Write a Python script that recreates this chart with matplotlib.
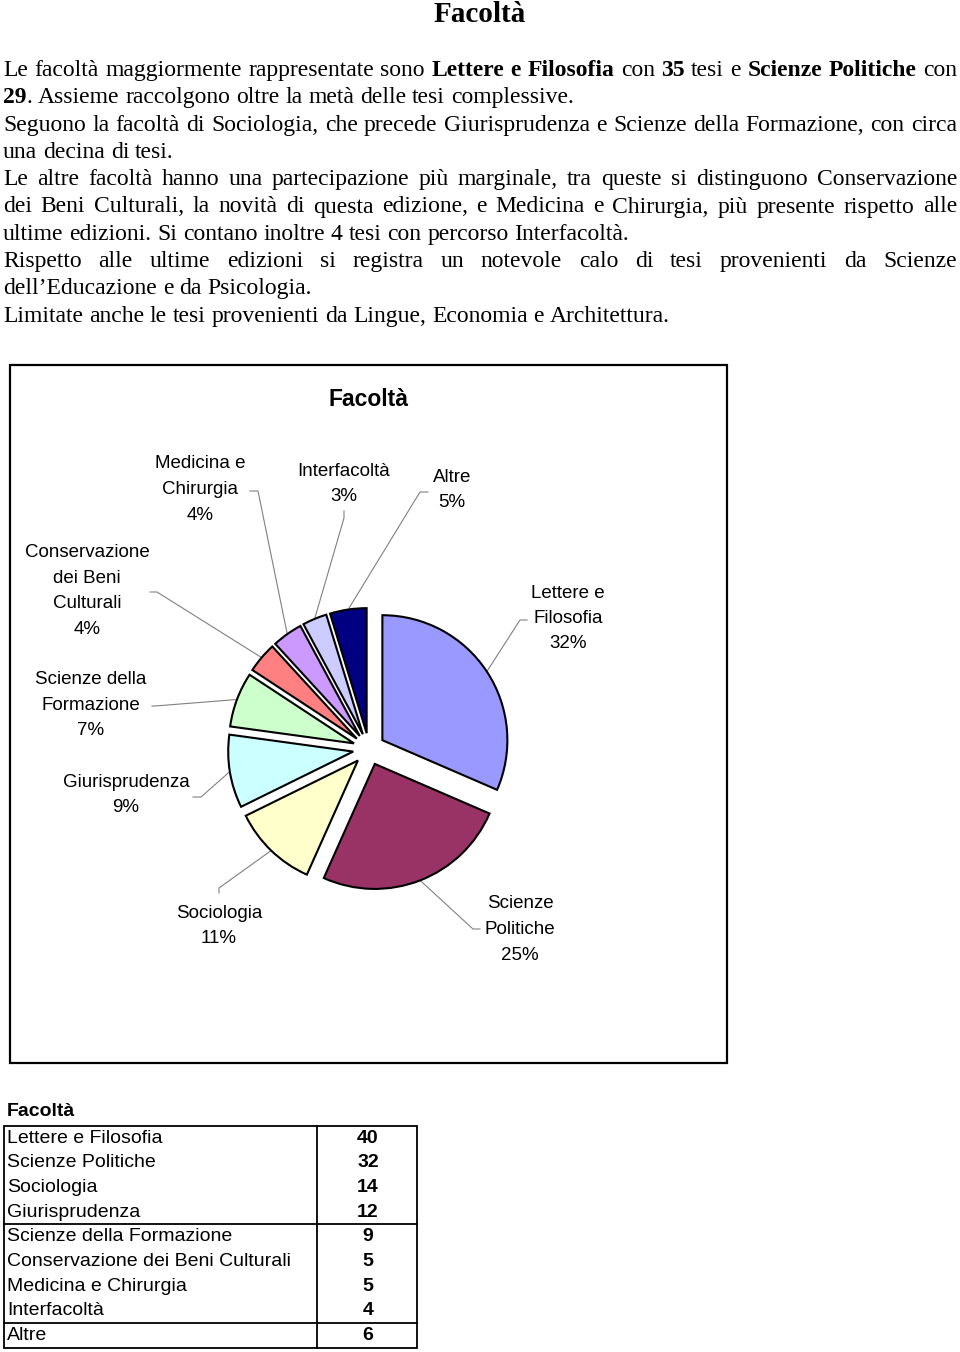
import numpy as np
import matplotlib
matplotlib.use("Agg")
import matplotlib.pyplot as plt
from matplotlib.patches import Rectangle

# dati
facolta = ["Lettere e Filosofia", "Scienze Politiche", "Sociologia", "Giurisprudenza",
           "Scienze della Formazione", "Conservazione dei Beni Culturali",
           "Medicina e Chirurgia", "Interfacoltà", "Altre"]
tesi = [40, 32, 14, 12, 9, 5, 5, 4, 6]
# percentuali come stampate sul grafico
percentuali = [32, 25, 11, 9, 7, 4, 4, 3, 5]
colori = ["#9999FF", "#993366", "#FFFFCC", "#CCFFFF", "#CCFFCC",
          "#FF8080", "#CC99FF", "#CCCCFF", "#000080"]
# etichette come vanno a capo nel grafico
etichette = [["Lettere e", "Filosofia"], ["Scienze", "Politiche"], ["Sociologia"],
             ["Giurisprudenza"], ["Scienze della", "Formazione"],
             ["Conservazione", "dei Beni", "Culturali"], ["Medicina e", "Chirurgia"],
             ["Interfacoltà"], ["Altre"]]

testo = [
    ("Le facoltà maggiormente rappresentate sono **Lettere e Filosofia** con **35** tesi e **Scienze Politiche** con", True),
    ("**29**. Assieme raccolgono oltre la metà delle tesi complessive.", False),
    ("Seguono la facoltà di Sociologia, che precede Giurisprudenza e Scienze della Formazione, con circa", True),
    ("una decina di tesi.", False),
    ("Le altre facoltà hanno una partecipazione più marginale, tra queste si distinguono Conservazione", True),
    ("dei Beni Culturali, la novità di questa edizione, e Medicina e Chirurgia, più presente rispetto alle", True),
    ("ultime edizioni. Si contano inoltre 4 tesi con percorso Interfacoltà.", False),
    ("Rispetto alle ultime edizioni si registra un notevole calo di tesi provenienti da Scienze", True),
    ("dell’Educazione e da Psicologia.", False),
    ("Limitate anche le tesi provenienti da Lingue, Economia e Architettura.", False),
]

W, H = 960, 1352
fig = plt.figure(figsize=(W / 100, H / 100), dpi=100)
ax = fig.add_axes([0, 0, 1, 1])
r = fig.canvas.get_renderer()

SERIF = "Liberation Serif"
SANS = "Liberation Sans"

# titolo pagina
ax.text(480, 22, "Facoltà", family=SERIF, weight="bold", size=21, ha="center", va="baseline")


def parse(riga):
    parole = []
    bold = False
    for w in riga.split(" "):
        pezzi = []
        for i, p in enumerate(w.split("**")):
            if i > 0:
                bold = not bold
            if p:
                pezzi.append((p, bold))
        parole.append(pezzi)
    return parole


def larghezza(s, bold, size):
    t = ax.text(0, 0, s, family=SERIF, weight="bold" if bold else "normal", size=size)
    w = t.get_window_extent(r).width
    t.remove()
    return w


SIZE = 17
spazio = larghezza("x x", False, SIZE) - larghezza("xx", False, SIZE)
x0, x1 = 3, 957
y = 76
for riga, giust in testo:
    parole = parse(riga)
    wp = [sum(larghezza(p, b, SIZE) for p, b in pz) for pz in parole]
    gap = (x1 - x0 - sum(wp)) / (len(parole) - 1) if giust else spazio
    x = x0
    for pz, w in zip(parole, wp):
        xx = x
        for p, b in pz:
            ax.text(xx, y, p, family=SERIF, weight="bold" if b else "normal",
                    size=SIZE, ha="left", va="baseline")
            xx += larghezza(p, b, SIZE)
        x += w + gap
    y += 27.3

# riquadro grafico
ax.add_patch(Rectangle((10, 365), 717, 698, fill=False, edgecolor="black", lw=1.6))
ax.text(368, 399, "Facoltà", family=SANS, weight="bold", size=16.5, ha="center", va="center")

wedges, _ = ax.pie(tesi, colors=colori, explode=[16] * len(tesi), radius=125,
                   center=(369, 749), startangle=-90, counterclock=True,
                   wedgeprops=dict(edgecolor="black", linewidth=1.5))

pos_etichette = [(568, 618.5), (520, 929.5), (219, 926), (126, 795), (91, 705),
                 (87, 591), (200, 489.5), (344, 484), (452, 490)]
ancore = [((527, 620), (520, 620)), ((480, 929), (473, 929)), ((219, 893), (219, 888)),
          ((193, 797), (201, 797)), ((152, 706), (155, 706)), ((150, 592), (157, 592)),
          ((250, 491), (258, 491)), ((344, 511), (344, 518)), ((428, 492), (420, 492))]

for w, lab, (lx, ly), (a, b), pc in zip(wedges, etichette, pos_etichette, ancore, percentuali):
    righe = lab + ["%d%%" % pc]
    n = len(righe)
    for i, s in enumerate(righe):
        ax.text(lx, ly + (i - (n - 1) / 2) * 25.5, s, family=SANS, size=13.5,
                ha="center", va="center")
    mid = np.deg2rad((w.theta1 + w.theta2) / 2)
    px = w.center[0] + w.r * np.cos(mid)
    py = w.center[1] + w.r * np.sin(mid)
    ax.plot([a[0], b[0], px], [a[1], b[1], py], color="#808080", lw=0.8, zorder=0)

# tabella
ax.text(7, 1112, "Facoltà", family=SANS, weight="bold", size=14, ha="left", va="center")
top, rh = 1125.7, 24.67
ax.add_patch(Rectangle((3.5, top), 413, rh * len(tesi), fill=False, edgecolor="black", lw=1.3))
ax.plot([317, 317], [top, top + rh * len(tesi)], color="black", lw=1.3)
for k in (4, 8):
    ax.plot([3.5, 416.5], [top + rh * k] * 2, color="black", lw=1.3)
for i, (f, v) in enumerate(zip(facolta, tesi)):
    yc = top + rh * (i + 0.5)
    ax.text(7, yc, f, family=SANS, size=14, ha="left", va="center")
    ax.text(368, yc, str(v), family=SANS, weight="bold", size=14, ha="center", va="center")

ax.set_xlim(0, W)
ax.set_ylim(H, 0)
ax.set_aspect("auto")
ax.axis("off")
fig.savefig("out.png", dpi=100)
